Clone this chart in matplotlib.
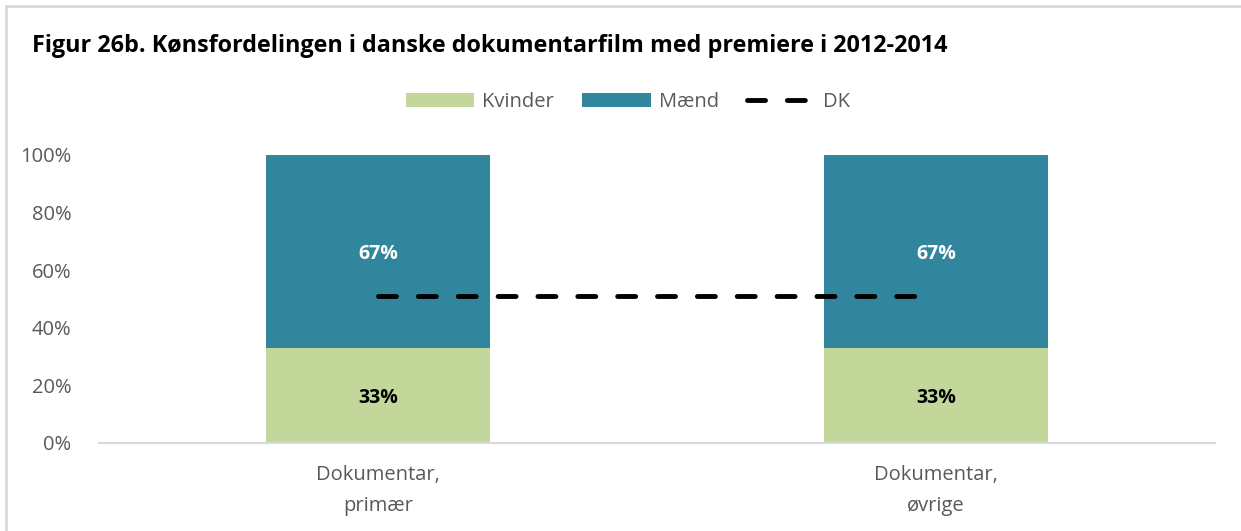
import matplotlib.pyplot as plt
from matplotlib.patches import Rectangle

categories = ['Dokumentar,\nprimær', 'Dokumentar,\nøvrige']
kvinder = [0.33, 0.33]
maend = [0.67, 0.67]
dk = [0.51, 0.51]

plt.rcParams['font.family'] = ['Open Sans', 'DejaVu Sans']

fig = plt.figure(figsize=(12.41, 5.31), dpi=100)
fig.patches.append(Rectangle((6 / 1241, -0.1), 1.2, (531 - 6) / 531 + 0.1,
                             transform=fig.transFigure, fill=False,
                             edgecolor='#d9d9d9', linewidth=2))
ax = fig.add_axes([99 / 1241, 88 / 531, (1215 - 99) / 1241, (443 - 155) / 531])

x = range(len(categories))
b1 = ax.bar(x, kvinder, width=0.4, color='#c4d79b', label='Kvinder')
b2 = ax.bar(x, maend, width=0.4, bottom=kvinder, color='#31859c', label='Mænd')
ln, = ax.plot(x, dk, color='black', linestyle=(0, (3.7, 4.5)), linewidth=3.5,
              dash_capstyle='round', label='DK')

for i in x:
    ax.text(i, kvinder[i] / 2, f'{kvinder[i]:.0%}', ha='center', va='center_baseline',
            fontsize=14, fontweight='bold', color='black')
    ax.text(i, kvinder[i] + maend[i] / 2, f'{maend[i]:.0%}', ha='center', va='center_baseline',
            fontsize=14, fontweight='bold', color='white')

ax.set_xlim(-0.5, 1.5)
ax.set_ylim(0, 1.0)
ax.set_yticks([0, 0.2, 0.4, 0.6, 0.8, 1.0])
ax.set_yticklabels(['0%', '20%', '40%', '60%', '80%', '100%'])
ax.set_xticks(list(x))
ax.set_xticklabels(categories, linespacing=1.75)
ax.tick_params(axis='both', length=0, labelsize=14.5, labelcolor='#595959')
ax.tick_params(axis='y', pad=20)
ax.tick_params(axis='x', pad=16)
for s in ['top', 'right', 'left']:
    ax.spines[s].set_visible(False)
ax.spines['bottom'].set_color('#d9d9d9')
ax.spines['bottom'].set_linewidth(1.5)

fig.text(32 / 1241, 1 - 46 / 531, 'Figur 26b. Kønsfordelingen i danske dokumentarfilm med premiere i 2012-2014',
         fontsize=16.8, fontweight='bold', va='center', ha='left')

leg = fig.legend(handles=[b1, b2, ln], loc='center', bbox_to_anchor=(628 / 1241, 1 - 102 / 531),
                 ncol=3, frameon=False, fontsize=14.5, handlelength=3.4, handleheight=0.75,
                 columnspacing=1.4, handletextpad=0.4)
for t in leg.get_texts():
    t.set_color('#595959')

fig.savefig('out.png', dpi=100)
